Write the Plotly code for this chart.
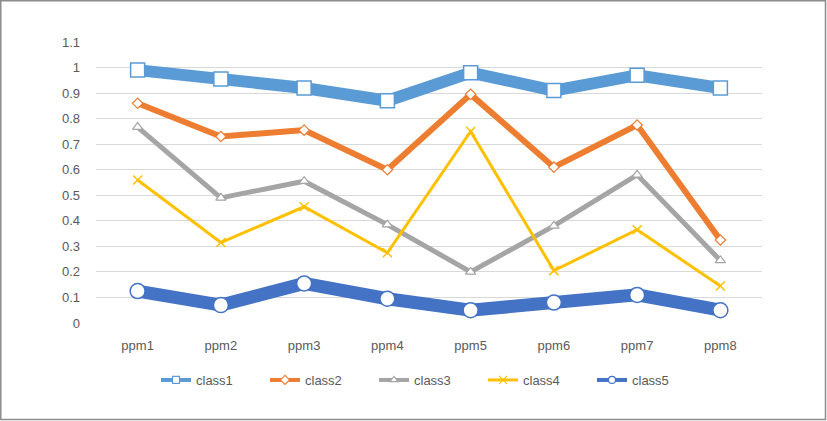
import plotly.graph_objects as go

categories = ["ppm1", "ppm2", "ppm3", "ppm4", "ppm5", "ppm6", "ppm7", "ppm8"]
class1 = [0.99, 0.955, 0.92, 0.87, 0.98, 0.91, 0.97, 0.92]
class2 = [0.86, 0.73, 0.755, 0.60, 0.895, 0.61, 0.775, 0.325]
class3 = [0.767, 0.49, 0.555, 0.385, 0.20, 0.38, 0.58, 0.245]
class4 = [0.56, 0.315, 0.455, 0.275, 0.75, 0.205, 0.365, 0.145]
class5 = [0.125, 0.07, 0.155, 0.095, 0.05, 0.08, 0.11, 0.05]
y_ticks = [0, 0.1, 0.2, 0.3, 0.4, 0.5, 0.6, 0.7, 0.8, 0.9, 1, 1.1]
y_tick_labels = ["0", "0.1", "0.2", "0.3", "0.4", "0.5", "0.6", "0.7", "0.8", "0.9", "1", "1.1"]

series = [
    ("class1", class1, "#5B9BD5", 12, "square", 14, 1.5),
    ("class2", class2, "#ED7D31", 6, "diamond", 8, 1.2),
    ("class3", class3, "#A5A5A5", 5, "triangle-up", 9, 1.2),
    ("class4", class4, "#FFC000", 3, "x-thin", 9, 1.5),
    ("class5", class5, "#4472C4", 13, "circle", 15, 1.5),
]

fig = go.Figure()
for name, vals, color, lw, sym, ms, mlw in series:
    is_x = sym == "x-thin"
    fig.add_trace(go.Scatter(
        x=categories, y=vals, name=name, mode="lines+markers",
        legendgroup=name, showlegend=False,
        line=dict(color=color, width=lw),
        marker=dict(symbol=sym, size=ms,
                    color=color if is_x else "white",
                    line=dict(color=color, width=mlw)),
    ))
# legend-only entries with smaller symbols, as in the reference legend
for name, vals, color, lw, sym, ms, mlw in series:
    is_x = sym == "x-thin"
    fig.add_trace(go.Scatter(
        x=[None], y=[None], name=name, mode="lines+markers",
        legendgroup=name, showlegend=True,
        line=dict(color=color, width=4 if not is_x else 3),
        marker=dict(symbol=sym, size=8 if is_x else 7,
                    color=color if is_x else "white",
                    line=dict(color=color, width=1.2)),
    ))

W, H = 827, 421
ml, mr, mt, mb = 96, 65, 42, 98
pw, ph = W - ml - mr, H - mt - mb

def px_to_paper_x(px):
    return (px - ml) / pw

def px_to_paper_y(py):
    return (H - mb - py) / ph

fig.update_layout(
    width=W, height=H,
    margin=dict(l=ml, r=mr, t=mt, b=mb),
    paper_bgcolor="white", plot_bgcolor="white",
    font=dict(family="Liberation Sans, Arial, sans-serif", size=13, color="#595959"),
    xaxis=dict(type="category", showgrid=False, showline=False, zeroline=False,
               ticks="", tickfont=dict(size=13, color="#595959"),
               range=[-0.5, 7.5], ticklabelstandoff=13),
    yaxis=dict(range=[0, 1.1], tickvals=y_ticks, ticktext=y_tick_labels,
               showgrid=True, gridcolor="#D9D9D9", gridwidth=1,
               zeroline=False, showline=False, ticks="",
               tickfont=dict(size=13, color="#595959"), ticklabelstandoff=15),
    showlegend=True,
    legend=dict(orientation="h", x=px_to_paper_x(156), xanchor="left",
                y=px_to_paper_y(380), yanchor="middle",
                font=dict(size=13, color="#595959"),
                entrywidth=64, entrywidthmode="pixels",
                itemwidth=30, tracegroupgap=0, traceorder="normal"),
    shapes=[dict(type="rect", xref="paper", yref="paper",
                 x0=px_to_paper_x(0.75), x1=px_to_paper_x(825.5),
                 y0=px_to_paper_y(419.5), y1=px_to_paper_y(0.75),
                 line=dict(color="#8C8C8C", width=1.5), fillcolor="rgba(0,0,0,0)",
                 layer="below")],
)

fig.write_html("out.html", config={"displayModeBar": False},
               post_script="document.body.style.margin='0px';document.body.style.padding='0px';document.body.style.overflow='hidden';")
